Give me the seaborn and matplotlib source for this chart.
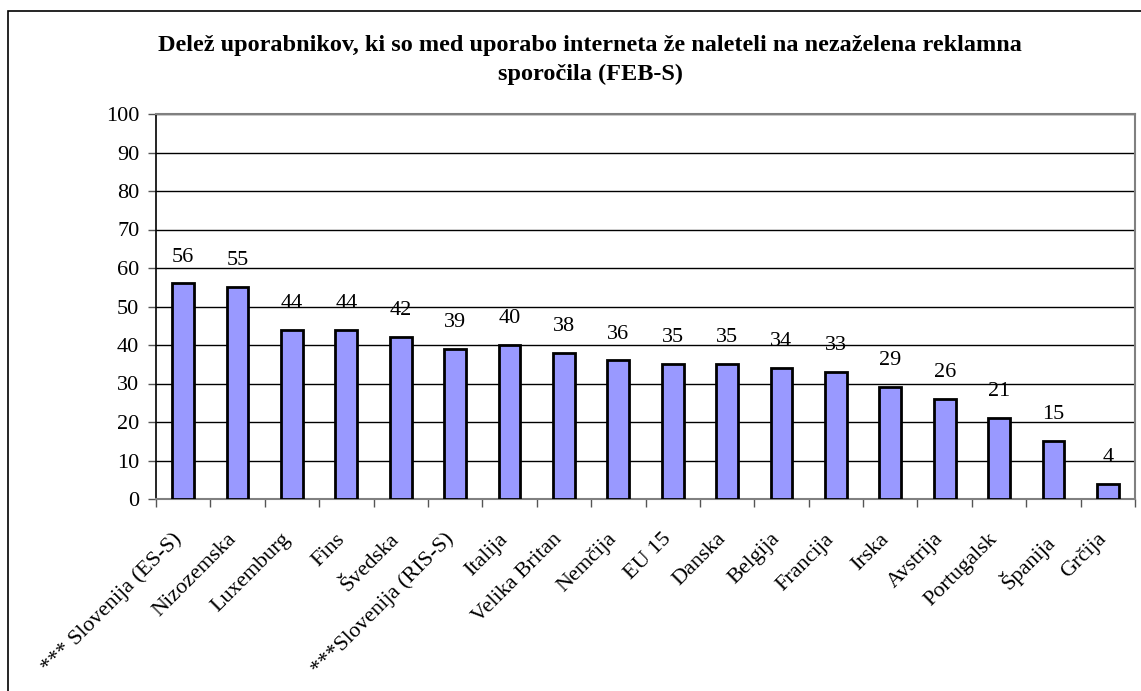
import matplotlib
matplotlib.use("Agg")
import matplotlib.pyplot as plt
import matplotlib.transforms as mtransforms
from matplotlib.patches import Rectangle
import seaborn as sns
import pandas as pd

# -----------------------------------------------------
# DATA
# -----------------------------------------------------

countries = [
    "*** Slovenija (ES-S)", "Nizozemska", "Luxemburg", "Fins", "Švedska",
    "***Slovenija (RIS-S)", "Italija", "Velika Britan", "Nemčija", "EU 15",
    "Danska", "Belgija", "Francija", "Irska", "Avstrija", "Portugalsk",
    "Španija", "Grčija",
]
shares = [56, 55, 44, 44, 42, 39, 40, 38, 36, 35, 35, 34, 33, 29, 26, 21, 15, 4]

title = ("Delež uporabnikov, ki so med uporabo interneta že naleteli na nezaželena reklamna\n"
         "sporočila (FEB-S)")

df = pd.DataFrame({"Country": countries, "Share": shares})

# -----------------------------------------------------
# PLOT
# -----------------------------------------------------

sns.set_theme(style="white")
plt.rcParams["font.family"] = ["Liberation Serif", "DejaVu Serif"]
plt.rcParams["text.color"] = "black"
plt.rcParams["xtick.labelcolor"] = "black"
plt.rcParams["ytick.labelcolor"] = "black"

fig = plt.figure(figsize=(11.41, 6.91), dpi=100)
ax = fig.add_axes([156 / 1141, 1 - 499 / 691, (1135 - 156) / 1141, (499 - 114) / 691])

sns.barplot(data=df, x="Country", y="Share", color="#9999FF", saturation=1,
            edgecolor="black", linewidth=2, width=0.4, ax=ax, zorder=3)

ax.set_ylim(0, 100)
ax.set_xlim(-0.5, len(countries) - 0.5)
ax.set_yticks(range(0, 101, 10))
ax.yaxis.grid(True, color="black", linewidth=1)
ax.set_axisbelow(True)
ax.set_xlabel("")
ax.set_ylabel("")

# value labels
for i, v in enumerate(shares):
    ax.annotate(str(v), (i, v), xytext=(0, 19), textcoords="offset points",
                ha="center", va="center", fontsize=16, color="black", zorder=4)

# ticks between categories
ax.set_xticks(range(len(countries)))
ax.set_xticks([i - 0.5 for i in range(len(countries) + 1)], minor=True)
ax.tick_params(axis="x", which="major", length=0, pad=22, labelsize=16)
ax.tick_params(axis="x", which="minor", length=6, width=1, color="#555555",
               direction="out", bottom=True)
ax.tick_params(axis="y", length=6, width=1, color="#555555", direction="out",
               left=True, labelsize=16, pad=6)
ax.set_xticklabels(countries, rotation=45, ha="right", va="top",
                   rotation_mode="anchor")
shift = mtransforms.ScaledTranslation(-11 / 100, 0, fig.dpi_scale_trans)
for lbl in ax.get_xticklabels():
    lbl.set_transform(lbl.get_transform() + shift)

for side in ["top", "right", "bottom"]:
    ax.spines[side].set_color("#808080")
    ax.spines[side].set_linewidth(1.5)
ax.spines["left"].set_color("black")
ax.spines["left"].set_linewidth(1.2)

fig.text(590 / 1141, 1 - 60 / 691, title, ha="center", va="center",
         fontsize=17.5, fontweight="bold", linespacing=1.5)

# outer chart frame
fig.patches.append(Rectangle((8 / 1141, -0.1), 1.2, 1.1 - 11 / 691,
                             transform=fig.transFigure, fill=False,
                             edgecolor="black", linewidth=1.2))

fig.savefig("out.png", dpi=100)
